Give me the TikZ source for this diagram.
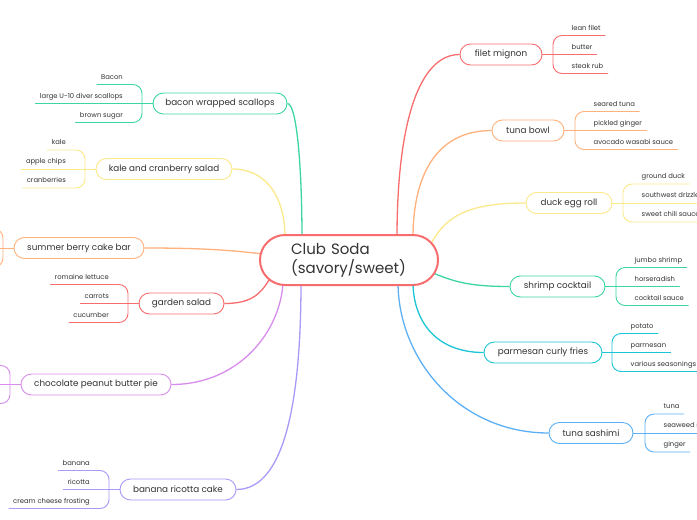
\documentclass[tikz,border=0pt]{standalone}
\usepackage{fontspec}
\setmainfont{Poppins}
\pgfdeclarelayer{bg}
\pgfsetlayers{bg,main}
\definecolor{cred}{HTML}{F76C6C}
\definecolor{corange}{HTML}{FFB27C}
\definecolor{cyellow}{HTML}{FBE98A}
\definecolor{cgreen}{HTML}{3DD6A3}
\definecolor{ccyan}{HTML}{1CC5D5}
\definecolor{cblue}{HTML}{5CB0F5}
\definecolor{cpurple}{HTML}{D88CEC}
\definecolor{cperi}{HTML}{A89BF8}
\definecolor{txt}{HTML}{333333}
\newcommand\leftkids[7]{%
  \coordinate (#1k) at (#3,#4);
  \node[child, anchor=south east] (#1a) at (#3-14.5,#4-19) {#5};
  \node[child, anchor=south east] (#1b) at (#3-14.5,#4) {#6};
  \node[child, anchor=south east] (#1c) at (#3-14.5,#4+19) {#7};
  \draw[kid, #2] (#1a.south west) -| (#1k) |- (#1c.south west);
  \draw[kid, #2] (#1b.south west) -- (#1.west);
}
\newcommand\rightkids[7]{%
  \coordinate (#1k) at (#3,#4);
  \node[child, anchor=south west] (#1a) at (#3+14,#4-19) {#5};
  \node[child, anchor=south west] (#1b) at (#3+14,#4) {#6};
  \node[child, anchor=south west] (#1c) at (#3+14,#4+19) {#7};
  \draw[kid, #2] (#1a.south east) -| (#1k) |- (#1c.south east);
  \draw[kid, #2] (#1.east) -- (#1b.south east);
}
\begin{document}
\begin{tikzpicture}[x=1pt,y=-1pt,
  branch/.style={draw=#1, line width=0.9pt, rounded corners=10.5pt, minimum height=21pt,
    inner xsep=0pt, inner ysep=0pt, fill=white, text=txt, font=\fontsize{8.8}{10}\selectfont},
  kid/.style={line width=0.9pt, rounded corners=9pt},
  child/.style={inner xsep=4.5pt, inner ysep=3pt, text height=5pt, text depth=2pt,
    text=txt, font=\fontsize{6.8}{8}\selectfont},
  link/.style={line width=1.3pt}]
\useasboundingbox (0,0) rectangle (697,520);
\clip (0,0) rectangle (697,520);
\begin{pgfonlayer}{bg}
\fill[white] (0,0) rectangle (697,520);
\end{pgfonlayer}

\node[draw=cred, line width=2pt, rounded corners=25pt, minimum width=178pt, minimum height=50pt,
  text width=116pt, inner xsep=31pt, inner ysep=0pt, align=left, fill=white, text=txt,
  font=\fontsize{15}{19}\selectfont] (main) at (349,260) {Club Soda\\(savory/sweet)};

\node[branch=cgreen, minimum width=134pt] (bac) at (220,103.5) {bacon wrapped scallops};
\node[branch=cyellow, minimum width=136pt] (kal) at (164,169) {kale and cranberry salad};
\node[branch=corange, minimum width=130pt] (sum) at (79,248) {summer berry cake bar};
\node[branch=cred, minimum width=85pt] (gar) at (181.5,303.5) {garden salad};
\node[branch=cpurple, minimum width=150pt] (cho) at (96,384.5) {chocolate peanut butter pie};
\node[branch=cperi, minimum width=116pt] (ban) at (178,489.5) {banana ricotta cake};
\node[branch=cred, minimum width=82pt] (fil) at (501,54.5) {filet mignon};
\node[branch=corange, minimum width=72pt] (tbo) at (528,130.5) {tuna bowl};
\node[branch=cyellow, minimum width=86pt] (duc) at (569,203) {duck egg roll};
\node[branch=cgreen, minimum width=95pt] (shr) at (557.5,286.5) {shrimp cocktail};
\node[branch=ccyan, minimum width=118pt] (par) at (543,352.5) {parmesan curly fries};
\node[branch=cblue, minimum width=84pt] (sas) at (591,433) {tuna sashimi};

\leftkids{bac}{cgreen}{142}{103.5}{Bacon}{large U-10 diver scallops}{brown sugar}
\leftkids{kal}{cyellow}{85}{169}{kale}{apple chips}{cranberries}
\leftkids{gar}{cred}{128}{303.5}{romaine lettuce}{carrots}{cucumber}
\leftkids{ban}{cperi}{109}{489.5}{banana}{ricotta}{cream cheese frosting}
\rightkids{fil}{cred}{553}{54.5}{lean filet}{butter}{steak rub}
\rightkids{tbo}{corange}{575}{130.5}{seared tuna}{pickled ginger}{avocado wasabi sauce}
\rightkids{duc}{cyellow}{623}{203}{ground duck}{southwest drizzle}{sweet chili sauce}
\rightkids{shr}{cgreen}{616}{286.5}{jumbo shrimp}{horseradish}{cocktail sauce}
\rightkids{par}{ccyan}{612}{352.5}{potato}{parmesan}{various seasonings}
\rightkids{sas}{cblue}{645}{433}{tuna}{seaweed salad}{ginger}

\coordinate (sumk) at (3,248);
\coordinate (sumA) at (-30,229);
\coordinate (sumB) at (-30,248);
\coordinate (sumC) at (-30,267);
\draw[kid, corange] (sumA) -| (sumk) |- (sumC);
\draw[kid, corange] (sum.west) -- (sumB);
\coordinate (chok) at (10,384.5);
\coordinate (choA) at (-30,365.5);
\coordinate (choB) at (-30,384.5);
\coordinate (choC) at (-30,403.5);
\draw[kid, cpurple] (choA) -| (chok) |- (choC);
\draw[kid, cpurple] (cho.west) -- (choB);

\begin{pgfonlayer}{bg}
\draw[link, cgreen] (bac.east) .. controls (297,103.5) and (302,170) .. ([shift={(-47pt,22pt)}]main.center);
\draw[link, cyellow] (kal.east) .. controls (265,169) and (285,195) .. ([shift={(-64pt,22pt)}]main.center);
\draw[link, corange] (sum.east) .. controls (200,248) and (230,250) .. ([shift={(-86pt,6pt)}]main.center);
\draw[link, cred] (gar.east) .. controls (250,303.5) and (260,295) .. ([shift={(-80pt,-20pt)}]main.center);
\draw[link, cpurple] (cho.east) .. controls (240,384.5) and (281,330) .. ([shift={(-66pt,-22pt)}]main.center);
\draw[link, cperi] (ban.east) .. controls (285,489.5) and (301,400) .. ([shift={(-48pt,-22pt)}]main.center);
\draw[link, cred] (fil.west) .. controls (420,54.5) and (397,120) .. ([shift={(48pt,22pt)}]main.center);
\draw[link, corange] (tbo.west) .. controls (440,130.5) and (413,170) .. ([shift={(64pt,22pt)}]main.center);
\draw[link, cyellow] (duc.west) .. controls (470,203) and (445,215) .. ([shift={(81pt,14pt)}]main.center);
\draw[link, cgreen] (shr.west) .. controls (470,286.5) and (455,282) .. ([shift={(84pt,-13pt)}]main.center);
\draw[link, ccyan] (par.west) .. controls (435,352.5) and (413,320) .. ([shift={(64pt,-22pt)}]main.center);
\draw[link, cblue] (sas.west) .. controls (460,433) and (398,360) .. ([shift={(49pt,-22pt)}]main.center);
\end{pgfonlayer}
\end{tikzpicture}
\end{document}
